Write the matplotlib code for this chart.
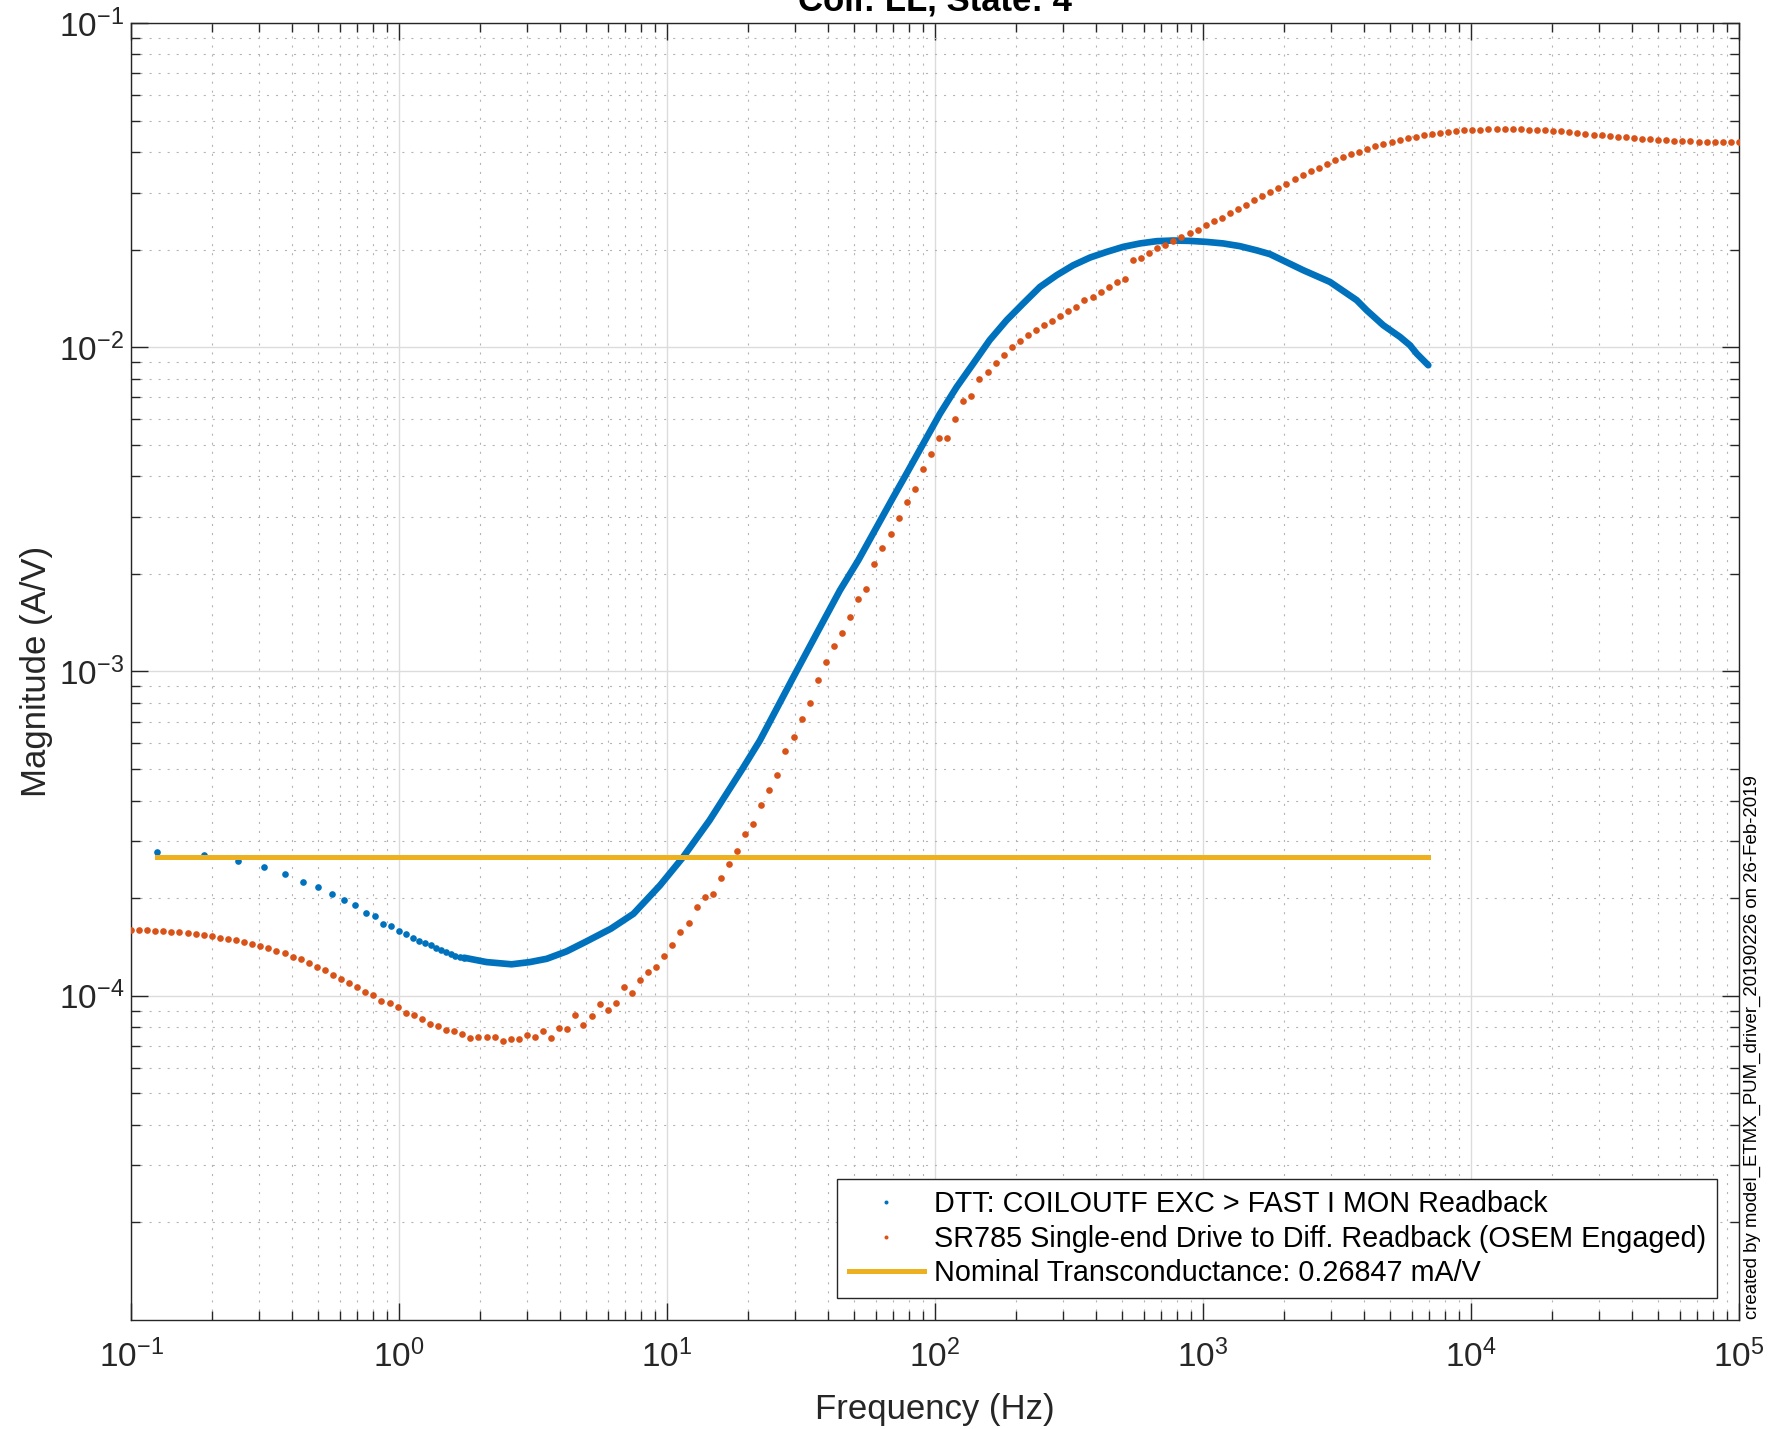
import numpy as np
import matplotlib
matplotlib.use("Agg")
import matplotlib.pyplot as plt
from matplotlib.ticker import LogLocator, NullFormatter

plt.rcParams['font.family'] = ['Liberation Sans', 'DejaVu Sans']
plt.rcParams['mathtext.fontset'] = 'custom'
plt.rcParams['mathtext.rm'] = 'Liberation Sans'
plt.rcParams['lines.scale_dashes'] = False

# DTT measurement: sparse low-frequency points (Hz, A/V)
dtt_dot_freq = [0.125, 0.1875, 0.25, 0.3125, 0.375, 0.4375, 0.5, 0.5625, 0.625, 0.6875,
                0.75, 0.8125, 0.875, 0.9375, 1.0, 1.0625, 1.125, 1.1875, 1.25, 1.3125,
                1.375, 1.4375, 1.5, 1.5625, 1.625, 1.6875, 1.75]
dtt_dot_mag = [2.77e-4, 2.72e-4, 2.60e-4, 2.50e-4, 2.37e-4, 2.25e-4, 2.16e-4, 2.06e-4, 1.97e-4, 1.90e-4,
               1.80e-4, 1.76e-4, 1.67e-4, 1.64e-4, 1.58e-4, 1.55e-4, 1.51e-4, 1.47e-4, 1.45e-4, 1.43e-4,
               1.40e-4, 1.38e-4, 1.36e-4, 1.345e-4, 1.33e-4, 1.318e-4, 1.31e-4]

# DTT measurement: dense part, points so close they merge into a band
dtt_band_freq = [1.75, 2.12, 2.63, 3.08, 3.56, 4.22, 5.0, 6.18, 7.5, 9.42,
                 11.5, 14.4, 19.3, 22.2, 29.6, 36.2, 44.2, 51.7, 69.9, 77.6,
                 104.4, 120.5, 139, 160, 185, 213.5, 246.5, 284.5, 328, 379,
                 437, 504, 582, 672, 775, 894, 1032, 1190, 1374, 1586,
                 1778, 2368, 2978, 3746, 4083, 4708, 5435, 5922, 6272, 6930]
dtt_band_mag = [1.31e-4, 1.27e-4, 1.25e-4, 1.27e-4, 1.30e-4, 1.37e-4, 1.47e-4, 1.61e-4, 1.79e-4, 2.19e-4,
                2.68e-4, 3.47e-4, 5.07e-4, 6.12e-4, 9.6e-4, 1.31e-3, 1.78e-3, 2.20e-3, 3.45e-3, 4.02e-3,
                6.24e-3, 7.54e-3, 8.91e-3, 1.052e-2, 1.211e-2, 1.365e-2, 1.535e-2, 1.668e-2, 1.79e-2, 1.891e-2,
                1.968e-2, 2.04e-2, 2.09e-2, 2.124e-2, 2.134e-2, 2.128e-2, 2.113e-2, 2.09e-2, 2.05e-2, 1.99e-2,
                1.937e-2, 1.728e-2, 1.59e-2, 1.397e-2, 1.30e-2, 1.169e-2, 1.076e-2, 1.014e-2, 9.56e-3, 8.80e-3]

# SR785 swept sine, 200 log-spaced points from 0.1 Hz to 100 kHz
sr_freq = np.logspace(-1, 5, 200)
sr_mag = [1.600e-4, 1.600e-4, 1.595e-4, 1.587e-4, 1.579e-4, 1.575e-4, 1.568e-4, 1.561e-4, 1.550e-4, 1.539e-4,
          1.529e-4, 1.510e-4, 1.496e-4, 1.482e-4, 1.468e-4, 1.440e-4, 1.427e-4, 1.400e-4, 1.377e-4, 1.351e-4,
          1.319e-4, 1.294e-4, 1.262e-4, 1.229e-4, 1.200e-4, 1.161e-4, 1.128e-4, 1.097e-4, 1.064e-4, 1.027e-4,
          1.002e-4, 9.65e-5, 9.47e-5, 9.20e-5, 8.86e-5, 8.69e-5, 8.47e-5, 8.19e-5, 8.06e-5, 7.84e-5,
          7.76e-5, 7.62e-5, 7.40e-5, 7.44e-5, 7.47e-5, 7.44e-5, 7.26e-5, 7.35e-5, 7.37e-5, 7.55e-5,
          7.46e-5, 7.78e-5, 7.40e-5, 7.97e-5, 7.90e-5, 8.69e-5, 8.12e-5, 8.68e-5, 9.40e-5, 9.05e-5,
          9.50e-5, 1.064e-4, 1.016e-4, 1.118e-4, 1.184e-4, 1.229e-4, 1.329e-4, 1.430e-4, 1.568e-4, 1.677e-4,
          1.883e-4, 2.017e-4, 2.055e-4, 2.313e-4, 2.550e-4, 2.797e-4, 3.156e-4, 3.388e-4, 3.878e-4, 4.314e-4,
          4.810e-4, 5.690e-4, 6.300e-4, 7.125e-4, 8.005e-4, 9.40e-4, 1.066e-3, 1.197e-3, 1.316e-3, 1.468e-3,
          1.677e-3, 1.797e-3, 2.151e-3, 2.397e-3, 2.661e-3, 2.966e-3, 3.324e-3, 3.645e-3, 4.223e-3, 4.697e-3,
          5.264e-3, 5.264e-3, 6.003e-3, 6.847e-3, 7.094e-3, 7.964e-3, 8.414e-3, 8.925e-3, 9.447e-3, 1.002e-2,
          1.043e-2, 1.087e-2, 1.128e-2, 1.175e-2, 1.206e-2, 1.249e-2, 1.291e-2, 1.332e-2, 1.394e-2, 1.430e-2,
          1.485e-2, 1.539e-2, 1.595e-2, 1.625e-2, 1.852e-2, 1.886e-2, 1.954e-2, 2.017e-2, 2.061e-2, 2.120e-2,
          2.181e-2, 2.244e-2, 2.301e-2, 2.379e-2, 2.443e-2, 2.506e-2, 2.586e-2, 2.661e-2, 2.744e-2, 2.843e-2,
          2.924e-2, 3.015e-2, 3.107e-2, 3.192e-2, 3.293e-2, 3.388e-2, 3.486e-2, 3.576e-2, 3.671e-2, 3.769e-2,
          3.850e-2, 3.942e-2, 4.007e-2, 4.093e-2, 4.163e-2, 4.241e-2, 4.301e-2, 4.363e-2, 4.406e-2, 4.457e-2,
          4.502e-2, 4.543e-2, 4.585e-2, 4.609e-2, 4.642e-2, 4.665e-2, 4.676e-2, 4.686e-2, 4.699e-2, 4.709e-2,
          4.709e-2, 4.709e-2, 4.699e-2, 4.686e-2, 4.676e-2, 4.665e-2, 4.642e-2, 4.631e-2, 4.609e-2, 4.576e-2,
          4.553e-2, 4.520e-2, 4.502e-2, 4.479e-2, 4.457e-2, 4.438e-2, 4.416e-2, 4.394e-2, 4.375e-2, 4.363e-2,
          4.345e-2, 4.332e-2, 4.323e-2, 4.314e-2, 4.301e-2, 4.292e-2, 4.292e-2, 4.292e-2, 4.292e-2, 4.292e-2]

# nominal transconductance, drawn over the DTT frequency span
nominal_freq = [0.125, 6930]
nominal_mag = [2.6847e-4, 2.6847e-4]

labels = ["DTT: COILOUTF EXC > FAST I MON Readback",
          "SR785 Single-end Drive to Diff. Readback (OSEM Engaged)",
          "Nominal Transconductance: 0.26847 mA/V"]

c_blue = "#0072BD"
c_orange = "#D95319"
c_yellow = "#EDB120"
c_axis = "#262626"

fig = plt.figure(figsize=(17.75, 14.29), dpi=100)
ax = fig.add_axes([0.0738, 0.0763, 0.9059, 0.9076])

h1, = ax.plot(dtt_dot_freq, dtt_dot_mag, "o", color=c_blue, ms=4.8, mew=0, zorder=3)
ax.plot(dtt_band_freq, dtt_band_mag, "-", color=c_blue, lw=4.8,
        solid_capstyle="round", solid_joinstyle="round", zorder=3)
h2, = ax.plot(sr_freq, sr_mag, "o", color=c_orange, ms=4.8, mew=0, zorder=4)
h3, = ax.plot(nominal_freq, nominal_mag, "-", color=c_yellow, lw=3.6, zorder=5)

ax.set_xscale("log")
ax.set_yscale("log")
ax.set_xlim(1e-1, 1e5)
ax.set_ylim(1e-5, 1e-1)
ax.set_xticks([1e-1, 1e0, 1e1, 1e2, 1e3, 1e4, 1e5])
ax.set_yticks([1e-4, 1e-3, 1e-2, 1e-1])
ax.xaxis.set_minor_locator(LogLocator(base=10, subs=np.arange(2, 10), numticks=20))
ax.yaxis.set_minor_locator(LogLocator(base=10, subs=np.arange(2, 10), numticks=20))
ax.xaxis.set_minor_formatter(NullFormatter())
ax.yaxis.set_minor_formatter(NullFormatter())

ax.tick_params(which="both", direction="in", top=True, right=True, colors=c_axis,
               labelsize=24, width=1.0)
ax.tick_params(which="major", length=12)
ax.tick_params(which="minor", length=6.5)
ax.tick_params(axis="x", which="major", pad=14)
ax.tick_params(axis="y", which="major", pad=5)
for s in ax.spines.values():
    s.set_color(c_axis)
    s.set_linewidth(1.0)

ax.grid(True, which="major", color="#dcdcdc", lw=1.0, ls="-", zorder=0)
ax.grid(True, which="minor", color="#b4b4b4", lw=0.8, ls=(0, (1.5, 5)), zorder=0)
ax.set_axisbelow(True)

ax.set_xlabel("Frequency (Hz)", fontsize=25, color=c_axis, labelpad=14)
ax.set_ylabel("Magnitude (A/V)", fontsize=25, color=c_axis, labelpad=4)

fig.text(0.0738 + 0.9059 / 2, 1 - 11 / 1429, "Coil: LL, State: 4", fontsize=25, fontweight="bold",
         ha="center", va="baseline", color="black")

fig.text(1752 / 1775, 1 - 1319 / 1429,
         "created by model_ETMX_PUM_driver_20190226 on 26-Feb-2019",
         rotation=90, fontsize=13.4, ha="center", va="bottom", color="black")

leg = ax.legend([h1, h2, h3], labels, loc="lower right", fontsize=20.7, numpoints=1,
                markerscale=0.6, handlelength=2.6, handletextpad=0.35, borderpad=0.4,
                labelspacing=0.22, borderaxespad=0.75, fancybox=False, framealpha=1,
                edgecolor=c_axis)
leg.get_frame().set_linewidth(1.0)

fig.savefig("out.png", dpi=100)
